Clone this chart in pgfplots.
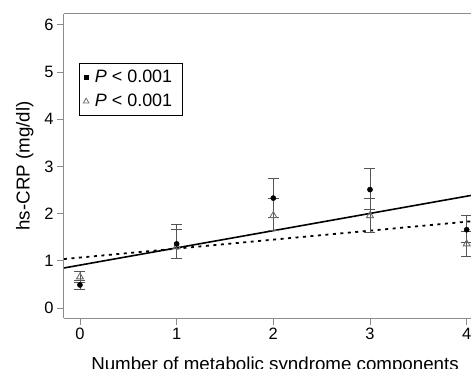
\documentclass[border=0pt]{standalone}
\usepackage{pgfplots}
\pgfplotsset{compat=1.18}
\usepackage{fontspec}
\setmainfont{Liberation Sans}
\definecolor{axgray}{HTML}{8C8C8C}
\definecolor{ebgray}{HTML}{555555}
\definecolor{trigray}{HTML}{707070}
\begin{document}
\begin{tikzpicture}
\useasboundingbox (-64bp,-51bp) rectangle (407bp,318bp);
\begin{axis}[
  at={(0,0)}, anchor=south west,
  scale only axis, width=422bp, height=304bp,
  xmin=-0.165, xmax=4.2, ymin=-0.21, ymax=6.23,
  axis x line*=box, axis y line*=left,
  axis line style={axgray, line width=1bp},
  xtick={0,1,2,3,4}, ytick={0,1,2,3,4,5,6},
  tick pos=left, tick align=outside, major tick length=7bp,
  tick style={axgray, line width=0.9bp},
  ticklabel style={font=\fontsize{16.5}{16.5}\selectfont},
  /pgf/number format/assume math mode=true,
  xlabel={Number of metabolic syndrome components},
  ylabel={hs-CRP (mg/dl)},
  label style={font=\fontsize{18.8}{18.8}\selectfont},
  xlabel style={yshift=-10bp},
  ylabel style={yshift=4bp},
  legend style={at={(0.0355,0.839)}, anchor=north west, draw=black, line width=0.8bp,
    font=\fontsize{18}{20}\selectfont, inner xsep=4bp, inner ysep=5bp, row sep=6bp,
    nodes={inner xsep=6bp}},
  legend cell align=left,
  clip=false,
]
\addlegendimage{only marks, mark=square*, mark size=2.2bp, black}
\addlegendentry{\textit{P} < 0.001}
\addlegendimage{only marks, mark=triangle, mark size=3.2bp, trigray, mark options={line width=0.8bp}}
\addlegendentry{\textit{P} < 0.001}

% regression lines
\addplot[forget plot, black, line width=1.6bp] coordinates {(-0.165,0.850) (4.2,2.443)};
\addplot[forget plot, black, line width=1.8bp, dash pattern=on 3bp off 4.5bp] coordinates {(-0.165,1.039) (4.2,1.868)};

% triangle series with error bars
\addplot[forget plot, only marks, mark=triangle, mark size=4bp, trigray, mark options={line width=0.9bp, fill=white},
  error bars/.cd, y dir=both, y explicit,
  error bar style={ebgray, line width=0.9bp},
  error mark options={rotate=90, mark size=5.5bp, ebgray, line width=0.9bp}]
  coordinates {
  (0,0.66) += (0,0.11) -= (0,0.11)
  (1,1.30) += (0,0.47) -= (0,0.25)
  (2,1.96) += (0,0.37) -= (0,0.31)
  (3,1.96) += (0,0.37) -= (0,0.36)
  (4,1.36) += (0,0.26) -= (0,0.27)
  };

% filled circle series with error bars
\addplot[forget plot, only marks, mark=*, mark size=2.6bp, black,
  error bars/.cd, y dir=both, y explicit,
  error bar style={ebgray, line width=0.9bp},
  error mark options={rotate=90, mark size=5.5bp, ebgray, line width=0.9bp}]
  coordinates {
  (0,0.49) += (0,0.09) -= (0,0.09)
  (1,1.36) += (0,0.30) -= (0,0.30)
  (2,2.33) += (0,0.41) -= (0,0.41)
  (3,2.51) += (0,0.45) -= (0,0.41)
  (4,1.66) += (0,0.30) -= (0,0.26)
  };
\end{axis}
\end{tikzpicture}
\end{document}
